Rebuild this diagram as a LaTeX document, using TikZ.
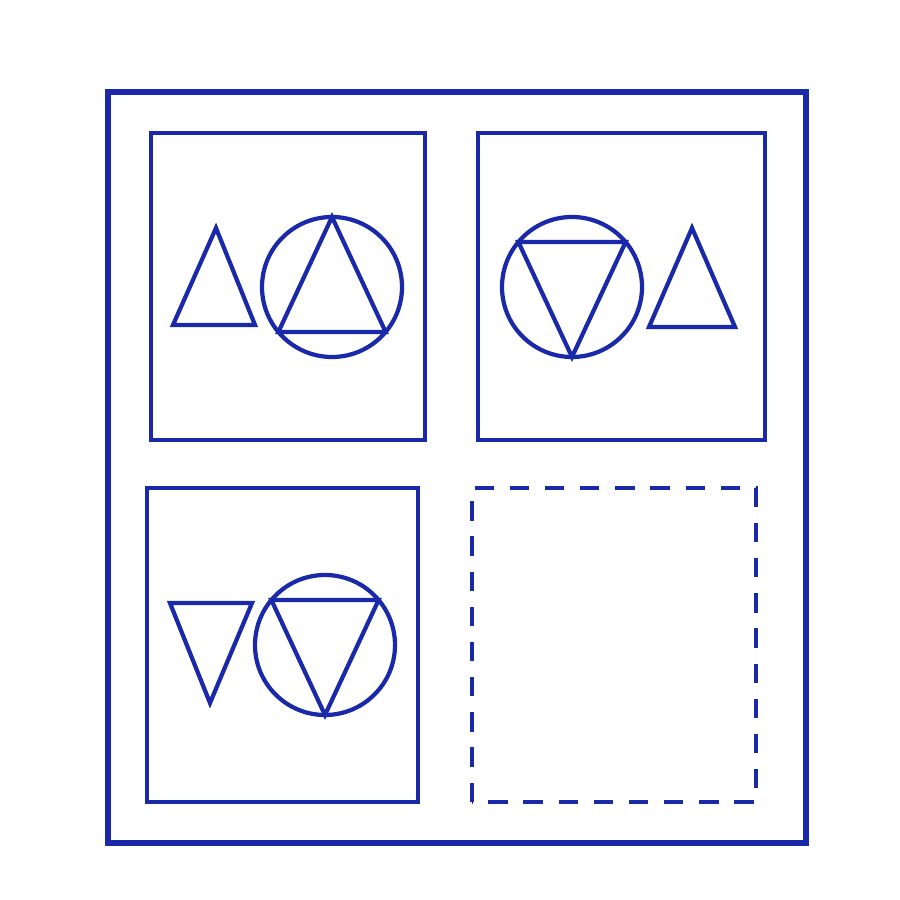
\documentclass[tikz,border=0pt]{standalone}
\usepackage{tikz}
\usetikzlibrary{calc}
\definecolor{inkblue}{RGB}{26,40,170}
\tikzset{
    frame/.style={line width=1.5pt, draw=inkblue},
    panel/.style={line width=1.4pt, draw=inkblue},
    emptypanel/.style={line width=1.4pt, draw=inkblue, dash pattern=on 5.5pt off 4.5pt},
    sign/.style={line width=1.2pt, draw=inkblue, line join=miter}
}

\begin{document}
\begin{tikzpicture}[x=0.01cm, y=0.01cm]
    \useasboundingbox (0,0) rectangle (900,900);

    % =========================================================================
    % OUTER FRAME AND THE FOUR PANELS
    % =========================================================================
    \draw[frame] (108,57) rectangle (806,808);
    \draw[panel] (151,460) rectangle (425,767);      % top left
    \draw[panel] (478,460) rectangle (765,767);      % top right
    \draw[panel] (147,98) rectangle (418,412);       % bottom left
    \draw[emptypanel] (472,98) rectangle (756,412);  % missing panel

    % =========================================================================
    % PANEL 1: triangle up, circle with triangle up
    % =========================================================================
    \draw[sign] (173,575) -- (255,575) -- (216,672) -- cycle;
    \begin{scope}[shift={(332,613)}]
        \draw[sign] (0,0) circle (70);
        \draw[sign] (90:70) -- (220:70) -- (320:70) -- cycle;
    \end{scope}

    % =========================================================================
    % PANEL 2: circle with triangle down, triangle up
    % =========================================================================
    \begin{scope}[shift={(572,613)}]
        \draw[sign] (0,0) circle (70);
        \draw[sign] (140:70) -- (40:70) -- (270:70) -- cycle;
    \end{scope}
    \draw[sign] (649,573) -- (735,573) -- (692,672) -- cycle;

    % =========================================================================
    % PANEL 3: triangle down, circle with triangle down
    % =========================================================================
    \draw[sign] (170,297) -- (252,297) -- (210,197) -- cycle;
    \begin{scope}[shift={(325,255)}]
        \draw[sign] (0,0) circle (70);
        \draw[sign] (140:70) -- (40:70) -- (270:70) -- cycle;
    \end{scope}
\end{tikzpicture}
\end{document}
